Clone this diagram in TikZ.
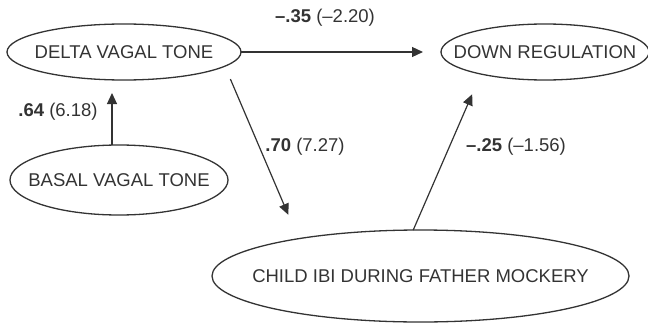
\documentclass[tikz,border=0pt]{standalone}
\usepackage{fontspec}
\setmainfont{Liberation Sans}
\usetikzlibrary{arrows.meta, shapes.geometric}
\definecolor{ink}{HTML}{333333}
\begin{document}
\begin{tikzpicture}[x=1pt,y=-1pt,
  every node/.style={font=\fontsize{18.5}{20}\selectfont, text=ink},
  var/.style={ellipse, draw=ink, line width=1.3pt, inner sep=0pt, outer sep=0pt},
  arr/.style={draw=ink, line width=1.2pt, -{Triangle[length=11pt,width=10pt]}},
  lbl/.style={inner sep=0pt}]
\useasboundingbox (0,0) rectangle (648,324);
\node[var, minimum width=234pt, minimum height=56pt] (delta) at (124,52) {\makebox[0pt]{DELTA VAGAL TONE}};
\node[var, minimum width=208pt, minimum height=56pt] (down) at (545,52) {\makebox[0pt]{DOWN REGULATION}};
\node[var, minimum width=218pt, minimum height=70pt] (basal) at (119,180) {\makebox[0pt]{BASAL VAGAL TONE}};
\node[var, minimum width=417pt, minimum height=92pt] (child) at (420.5,276) {\makebox[0pt]{CHILD IBI DURING FATHER MOCKERY}};
\draw[arr, shorten >=18pt] (delta.east) -- (down.west);
\draw[arr, shorten >=13pt] ([xshift=-7pt]basal.north) -- ([xshift=-12pt]delta.south);
\draw[arr, shorten <=14pt, shorten >=26pt] (delta.-8.7) -- (child.163.7);
\draw[arr, shorten >=22pt] (child.99.7) -- (down.-161.5);
\node[lbl] (l1) at (325,18) {\textbf{–.35} (–2.20)};
\node[lbl] (l2) at (58,112) {\textbf{.64} (6.18)};
\node[lbl] (l3) at (305,147) {\textbf{.70} (7.27)};
\node[lbl] (l4) at (516,147) {\textbf{–.25} (–1.56)};
\end{tikzpicture}
\end{document}
